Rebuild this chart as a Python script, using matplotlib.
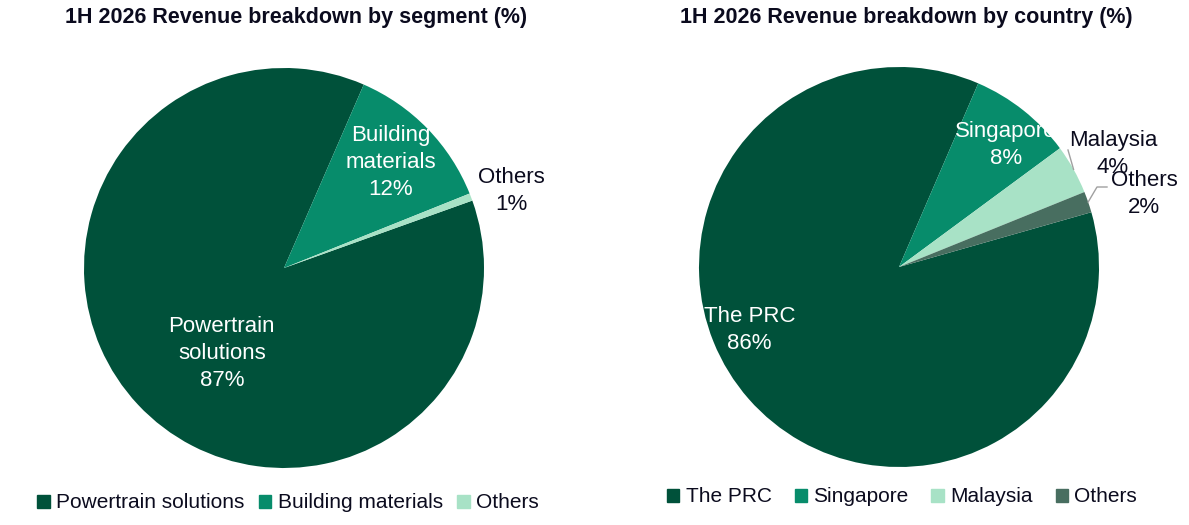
import numpy as np
import matplotlib
matplotlib.use("Agg")
import matplotlib.pyplot as plt
from matplotlib.patches import Patch

plt.rcParams['font.family'] = ['Liberation Sans', 'DejaVu Sans']

# data
seg_names = ['Powertrain solutions', 'Building materials', 'Others']
seg_labels = ['Powertrain\nsolutions', 'Building\nmaterials', 'Others']
seg_values = [87.0, 12.4, 0.6]

cty_names = ['The PRC', 'Singapore', 'Malaysia', 'Others']
cty_labels = ['The PRC', 'Singapore', 'Malaysia', 'Others']
cty_values = [85.9, 8.4, 4.0, 1.7]

seg_colors = ['#00513a', '#078c6b', '#a8e2c6']
cty_colors = ['#00513a', '#078c6b', '#a8e2c6', '#486e60']
txt = '#0b0b1e'

fig = plt.figure(figsize=(11.89, 5.25), dpi=100)


def draw_pie(ax, values, labels, colors, start, lab_r, lab_dt, lab_col):
    wedges, _ = ax.pie(values, colors=colors, startangle=start, counterclock=False,
                       radius=1.0, wedgeprops=dict(linewidth=0))
    ax.set_xlim(-1, 1)
    ax.set_ylim(-1, 1)
    ax.set_aspect('equal')
    mids = []
    for w, lab, v, r, dt, c in zip(wedges, labels, values, lab_r, lab_dt, lab_col):
        mid = (w.theta1 + w.theta2) / 2
        mids.append(mid)
        a = np.radians(mid + dt)
        ax.text(r * np.cos(a), r * np.sin(a), f'{lab}\n{round(v)}%', ha='center', va='center',
                fontsize=16, color=c, linespacing=1.38, clip_on=False)
    return mids


ax1 = fig.add_axes([84 / 1189, (525 - 468) / 525, 400 / 1189, 400 / 525])
draw_pie(ax1, seg_values, seg_labels, seg_colors, 19.7,
         [0.53, 0.75, 1.2], [11, 0.5, -2], ['white', 'white', txt])

ax2 = fig.add_axes([699 / 1189, (525 - 467) / 525, 400 / 1189, 400 / 525])
mids = draw_pie(ax2, cty_values, cty_labels, cty_colors, 15.9,
                [0.81, 0.81, 1.21, 1.28], [-18.5, -2.8, -1.4, -2.4], ['white', 'white', txt, txt])

# leader lines
lc = '#a0a0a0'
a = np.radians(mids[2])
ax2.plot([np.cos(a), 0.845], [np.sin(a), 0.585], color=lc, lw=1, clip_on=False)
a = np.radians(mids[3])
ax2.plot([np.cos(a), 0.99, 1.04], [np.sin(a), 0.40, 0.40], color=lc, lw=1, clip_on=False)

fig.text(296 / 1189, 1 - 17 / 525, '1H 2026 Revenue breakdown by segment (%)',
         ha='center', va='center', fontsize=15.5, fontweight='bold', color=txt)
fig.text(906 / 1189, 1 - 17 / 525, '1H 2026 Revenue breakdown by country (%)',
         ha='center', va='center', fontsize=15.5, fontweight='bold', color=txt)

h1 = [Patch(color=c) for c in seg_colors]
fig.legend(h1, seg_names, loc='center', bbox_to_anchor=(288 / 1189, 1 - 503 / 525), ncol=3,
           frameon=False, fontsize=15, handlelength=0.6, handleheight=0.6, handletextpad=0.3,
           columnspacing=0.7, labelcolor=txt)
h2 = [Patch(color=c) for c in cty_colors]
fig.legend(h2, cty_names, loc='center', bbox_to_anchor=(902 / 1189, 1 - 497 / 525), ncol=4,
           frameon=False, fontsize=15, handlelength=0.6, handleheight=0.6, handletextpad=0.3,
           columnspacing=1.1, labelcolor=txt)

fig.savefig('out.png', dpi=100)
